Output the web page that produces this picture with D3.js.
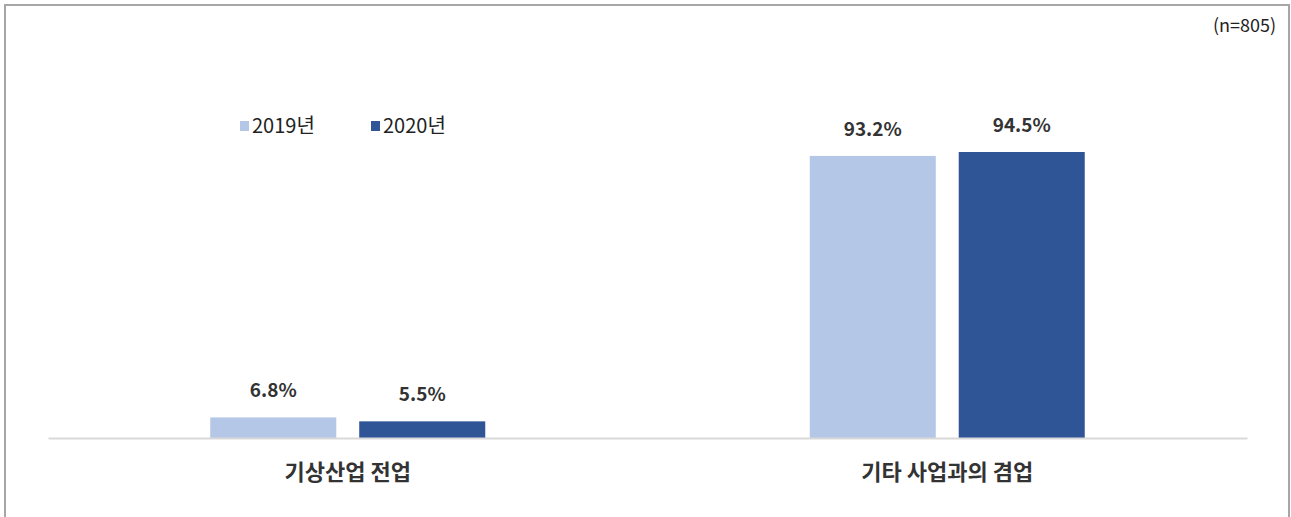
<!DOCTYPE html>
<html>
<head>
<meta charset="utf-8">
<script src="https://cdn.jsdelivr.net/npm/d3@7"></script>
<style>
	body { margin: 0; background: #fff; }
	text { font-family: "Noto Sans CJK KR", "Noto Sans", sans-serif; }
</style>
</head>
<body>
<div id="chart"></div>
<script>
// 데이터
var categories = ["기상산업 전업", "기타 사업과의 겸업"];
var seriesNames = ["2019년", "2020년"];
var values2019 = [6.8, 93.2];
var values2020 = [5.5, 94.5];
var note = "(n=805)";

(function () {
	'use strict';
	var W = 1291, H = 517;
	var colors = ["#b4c7e7", "#2f5597"];
	var margin = {top: 152, right: 44, bottom: 79, left: 48};
	var width = W - margin.left - margin.right;
	var height = H - margin.top - margin.bottom;

	var svg = d3.select("#chart").append("svg")
		.attr("width", W)
		.attr("height", H);

	// 테두리 (아래쪽 없음)
	svg.append("path")
		.attr("d", "M5,517 V5 H1289 V517")
		.attr("fill", "none")
		.attr("stroke", "#a6a6a6")
		.attr("stroke-width", 2);

	svg.append("text")
		.attr("x", 1276).attr("y", 32)
		.attr("text-anchor", "end")
		.attr("font-size", 18)
		.attr("fill", "#222")
		.text(note);

	var g = svg.append("g")
		.attr("transform", "translate(" + margin.left + "," + margin.top + ")");

	var x0 = d3.scaleBand().domain(categories).range([0, width]).paddingInner(0).paddingOuter(0);
	var x1 = d3.scaleBand().domain(seriesNames)
		.range([x0.bandwidth() / 2 - 137.5, x0.bandwidth() / 2 + 137.5])
		.paddingInner(0.154);
	var y = d3.scaleLinear().domain([0, 94.5]).range([height, 0]);

	var data = categories.map(function (c, i) {
		return {cat: c, vals: [values2019[i], values2020[i]]};
	});

	var groups = g.selectAll(".grp").data(data).enter().append("g")
		.attr("transform", function (d) { return "translate(" + x0(d.cat) + ",0)"; });

	groups.selectAll("rect").data(function (d) {
		return d.vals.map(function (v, i) { return {s: seriesNames[i], v: v, i: i}; });
	}).enter().append("rect")
		.attr("x", function (d) { return x1(d.s); })
		.attr("y", function (d) { return y(d.v); })
		.attr("width", x1.bandwidth())
		.attr("height", function (d) { return height - y(d.v); })
		.attr("fill", function (d) { return colors[d.i]; });

	groups.selectAll(".val").data(function (d) {
		return d.vals.map(function (v, i) { return {s: seriesNames[i], v: v}; });
	}).enter().append("text")
		.attr("x", function (d) { return x1(d.s) + x1.bandwidth() / 2; })
		.attr("y", function (d) { return y(d.v) - 20; })
		.attr("text-anchor", "middle")
		.attr("font-size", 19)
		.attr("font-weight", "bold")
		.attr("fill", "#333")
		.text(function (d) { return d.v.toFixed(1) + "%"; });

	// 축
	var axis = g.append("g")
		.attr("transform", "translate(0," + height + ")")
		.call(d3.axisBottom(x0).tickSize(0).tickPadding(26));
	axis.select(".domain").attr("stroke", "#d9d9d9").attr("stroke-width", 2);
	axis.selectAll("text")
		.attr("font-size", 22)
		.attr("font-weight", "bold")
		.attr("fill", "#333")
		.attr("font-family", "'Noto Sans CJK KR', sans-serif");

	// 범례
	var legend = svg.append("g").attr("transform", "translate(240,121)");
	var items = legend.selectAll("g").data(seriesNames).enter().append("g")
		.attr("transform", function (d, i) { return "translate(" + (i * 131) + ",0)"; });
	items.append("rect").attr("width", 9).attr("height", 10)
		.attr("fill", function (d, i) { return colors[i]; });
	items.append("text").attr("x", 12).attr("y", 12)
		.attr("font-size", 20)
		.attr("fill", "#222")
		.text(function (d) { return d; });
})();
</script>
</body>
</html>
